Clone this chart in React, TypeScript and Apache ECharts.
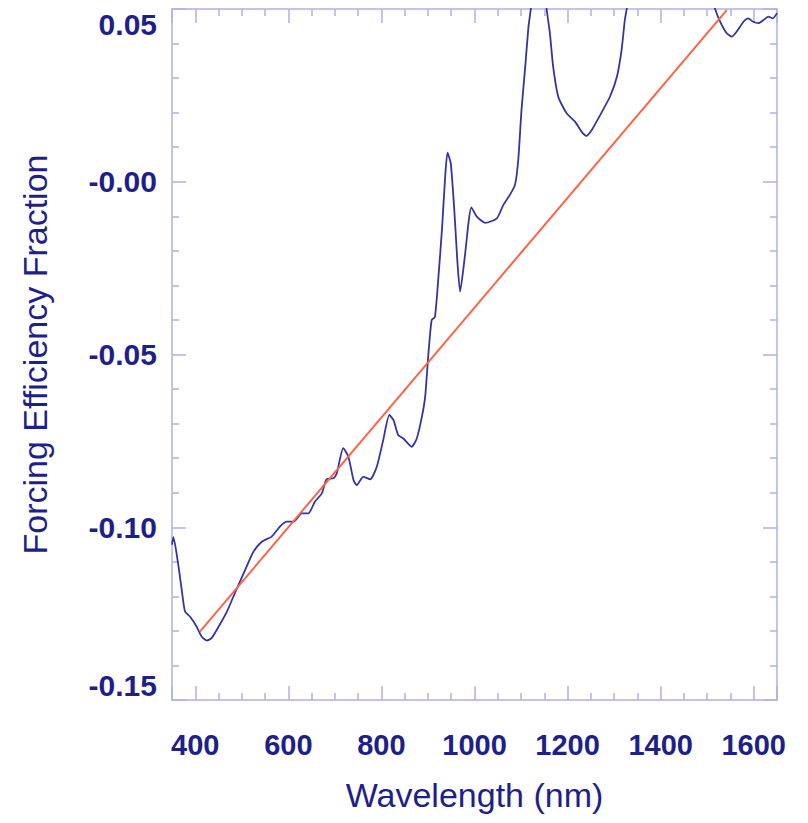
import React, { useEffect, useRef } from 'react';
import * as echarts from 'echarts';

// Blue curve: forcing efficiency fraction vs wavelength (values above 0.05 are clipped by the axis)
const wavelengths = [
  350, 353, 363, 371, 378, 389, 403, 414, 425, 435, 450, 468, 485, 507, 525, 543, 564, 582, 597,
  611, 629, 643, 657, 672, 682, 697, 704, 718, 729, 740, 747, 761, 776, 790, 804, 817, 826, 836,
  847, 865, 876, 887, 894, 901, 908, 915, 922, 930, 937, 942, 949, 957, 963, 969, 980, 987, 993,
  1005, 1023, 1048, 1062, 1076, 1087, 1094, 1101, 1109, 1116, 1121, 1128, 1138, 1148, 1155, 1162,
  1169, 1180, 1198, 1216, 1230, 1240, 1252, 1270, 1291, 1306, 1316, 1323, 1327, 1340, 1370, 1400,
  1430, 1460, 1490, 1505, 1517, 1528, 1542, 1553, 1563, 1578, 1588, 1599, 1610, 1621, 1631, 1641, 1650,
];
const efficiency = [
  -0.1050, -0.1029, -0.1104, -0.1182, -0.1244, -0.1259, -0.1288, -0.1317, -0.1328, -0.1321, -0.1288,
  -0.1244, -0.1191, -0.1124, -0.1071, -0.1042, -0.1027, -0.0998, -0.0984, -0.0984, -0.0960, -0.0960,
  -0.0926, -0.0902, -0.0861, -0.0858, -0.0844, -0.0771, -0.0796, -0.0863, -0.0878, -0.0854, -0.0861,
  -0.0825, -0.0747, -0.0675, -0.0690, -0.0733, -0.0743, -0.0767, -0.0743, -0.0680, -0.0622, -0.0497,
  -0.0400, -0.0391, -0.0284, -0.0140, 0.0015, 0.0084, 0.0053, -0.0091, -0.0226, -0.0318, -0.0207,
  -0.0120, -0.0074, -0.0101, -0.0119, -0.0106, -0.0067, -0.0038, -0.0009, 0.0063, 0.0208, 0.0333,
  0.0449, 0.0500, 0.0620, 0.0680, 0.0600, 0.0500, 0.0430, 0.0333, 0.0246, 0.0198, 0.0174, 0.0145,
  0.0133, 0.0150, 0.0193, 0.0246, 0.0304, 0.0381, 0.0468, 0.0500, 0.0650, 0.0850, 0.0950, 0.0900,
  0.0800, 0.0650, 0.0560, 0.0500, 0.0463, 0.0430, 0.0420, 0.0434, 0.0463, 0.0473, 0.0463, 0.0459,
  0.0468, 0.0478, 0.0473, 0.0488,
];

// Red straight-line fit
const fitWavelengths = [410, 1542];
const fitValues = [-0.1302, 0.0497];

const xMin = 350;
const xMax = 1650;
const yMin = -0.15;
const yMax = 0.05;

const axisColor = '#b0b0e4';
const textColor = '#1f1f8c';
const font = 'Liberation Sans, Helvetica, Arial, sans-serif';

export default function App() {
  const ref = useRef<HTMLDivElement>(null);

  useEffect(() => {
    document.body.style.margin = '0';
    if (!ref.current) return;
    const chart = echarts.init(ref.current, undefined, { renderer: 'svg' });

    const curve = wavelengths.map((w, i) => [w, efficiency[i]]);
    const fit = fitWavelengths.map((w, i) => [w, fitValues[i]]);

    const lineStyle = { color: axisColor, width: 1.5 };
    const xBase = (pos: 'bottom' | 'top', labels: boolean) => ({
      type: 'value',
      position: pos,
      min: xMin,
      max: xMax,
      minInterval: 200,
      maxInterval: 200,
      axisLine: { show: true, onZero: false, lineStyle },
      axisTick: { show: true, inside: true, length: 14, lineStyle },
      minorTick: { show: true, splitNumber: 4, length: 7, lineStyle },
      splitLine: { show: false },
      axisLabel: labels
        ? {
            show: true,
            showMinLabel: false,
            showMaxLabel: false,
            color: textColor,
            fontSize: 29,
            fontWeight: 'bold',
            fontFamily: font,
            margin: 30,
            formatter: (v: number) => String(Math.round(v)),
          }
        : { show: false },
      name: labels ? 'Wavelength (nm)' : '',
      nameLocation: 'middle',
      nameGap: 78,
      nameTextStyle: { color: textColor, fontSize: 34, fontFamily: font },
    });
    const yBase = (pos: 'left' | 'right', labels: boolean) => ({
      type: 'value',
      position: pos,
      min: yMin,
      max: yMax,
      interval: 0.05,
      axisLine: { show: true, onZero: false, lineStyle },
      axisTick: { show: true, inside: true, length: 14, lineStyle },
      minorTick: { show: true, splitNumber: 5, length: 7, lineStyle },
      splitLine: { show: false },
      axisLabel: labels
        ? {
            show: true,
            color: textColor,
            fontSize: 30,
            fontFamily: font,
            fontWeight: 'bold',
            margin: 15,
            verticalAlignMaxLabel: 'top',
            verticalAlignMinLabel: 'bottom',
            formatter: (v: number) => (Math.abs(v) < 1e-9 ? '-0.00' : v.toFixed(2)),
          }
        : { show: false },
      name: labels ? 'Forcing Efficiency Fraction' : '',
      nameLocation: 'middle',
      nameGap: 120,
      nameTextStyle: { color: textColor, fontSize: 34, fontFamily: font },
    });

    chart.setOption({
      animation: false,
      backgroundColor: '#ffffff',
      grid: { left: 172, top: 9, right: 31, bottom: 123, containLabel: false },
      xAxis: [xBase('bottom', true), xBase('top', false)],
      yAxis: [yBase('left', true), yBase('right', false)],
      series: [
        {
          type: 'line',
          data: curve,
          xAxisIndex: 0,
          yAxisIndex: 0,
          showSymbol: false,
          smooth: 0.2,
          clip: true,
          lineStyle: { color: '#3434a4', width: 1.8 },
        },
        {
          type: 'line',
          data: fit,
          xAxisIndex: 0,
          yAxisIndex: 0,
          showSymbol: false,
          clip: true,
          lineStyle: { color: '#ff6347', width: 2 },
        },
      ],
    });

    return () => chart.dispose();
  }, []);

  return <div ref={ref} style={{ width: 808, height: 823 }} />;
}
